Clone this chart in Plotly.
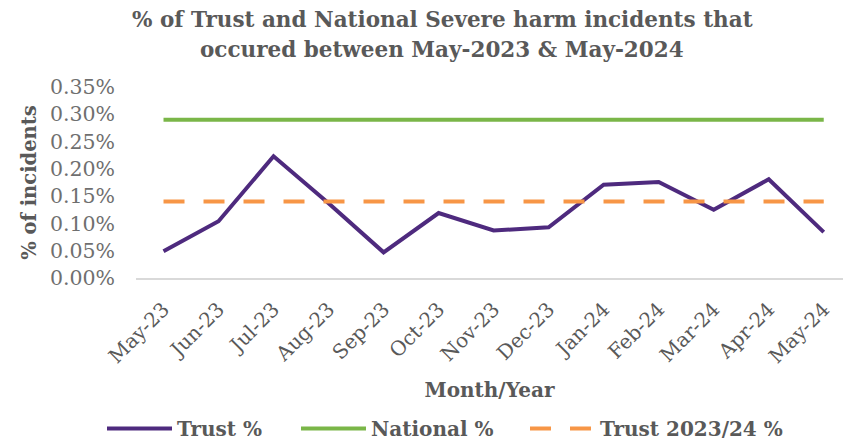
import plotly.graph_objects as go

months = ["May-23", "Jun-23", "Jul-23", "Aug-23", "Sep-23", "Oct-23", "Nov-23",
          "Dec-23", "Jan-24", "Feb-24", "Mar-24", "Apr-24", "May-24"]
trust_pct = [0.049, 0.104, 0.223, 0.137, 0.047, 0.119, 0.087,
             0.093, 0.171, 0.176, 0.125, 0.181, 0.084]
national_pct = [0.29] * 13
trust_year_pct = [0.14] * 13
y_ticks = [0.0, 0.05, 0.10, 0.15, 0.20, 0.25, 0.30, 0.35]
title_lines = ["% of Trust and National Severe harm incidents that",
               "occured between May-2023 & May-2024"]

def frac(v):
    return [x / 100 for x in v]

FONT = "DejaVu Serif"
GREY = "#595959"

fig = go.Figure()
fig.add_trace(go.Scatter(x=list(range(13)), y=frac(trust_pct), name="Trust %", legend="legend",
                         mode="lines", line=dict(color="#4E2A7E", width=4)))
fig.add_trace(go.Scatter(x=list(range(13)), y=frac(national_pct), name="National %", legend="legend2",
                         mode="lines", line=dict(color="#7AB648", width=4)))
fig.add_trace(go.Scatter(x=list(range(13)), y=frac(trust_year_pct), name="Trust 2023/24 %", legend="legend3",
                         mode="lines", line=dict(color="#F79646", width=4, dash="21px,19px")))

for txt, ypx in zip(title_lines, [19, 49]):
    fig.add_annotation(text="<b>" + txt + "</b>", xref="paper", yref="paper",
                       x=(442 - 136) / 707, y=1 + (87 - ypx) / 191,
                       xanchor="center", yanchor="middle", showarrow=False,
                       font=dict(family=FONT, size=21.5, color=GREY))

def leg(xpx):
    return dict(orientation="h", x=xpx / 843, xref="container", xanchor="left",
                y=0.0, yref="container", yanchor="bottom",
                font=dict(family=FONT, size=20, color=GREY, weight="bold"),
                itemwidth=65, tracegroupgap=0, bgcolor="rgba(0,0,0,0)")

fig.update_layout(
    width=843, height=448,
    margin=dict(l=136, r=0, t=87, b=170),
    paper_bgcolor="white", plot_bgcolor="white",
    font=dict(family=FONT, color=GREY),
    showlegend=True,
    legend=leg(102), legend2=leg(296), legend3=leg(525),
)
fig.update_xaxes(
    range=[-0.5, 12.35], tickmode="array", tickvals=list(range(13)), ticktext=months,
    tickangle=-45, tickfont=dict(family=FONT, size=20, color=GREY),
    ticklabelstandoff=10,
    showgrid=False, showline=True, linecolor="#d9d9d9", linewidth=1.5, ticks="",
    title=dict(text="<b>Month/Year</b>", font=dict(family=FONT, size=20, color=GREY), standoff=16),
    zeroline=False,
)
fig.update_yaxes(
    range=[0, 0.0035], tickmode="array", tickvals=frac(y_ticks), tickformat=".2%",
    tickfont=dict(family=FONT, size=20.5, color="#6f6f6f"),
    ticklabelstandoff=20,
    showgrid=False, showline=False, zeroline=False, ticks="",
    title=dict(text="<b>% of incidents</b>", font=dict(family=FONT, size=19.5, color=GREY), standoff=8),
)

fig.write_html("out.html")
